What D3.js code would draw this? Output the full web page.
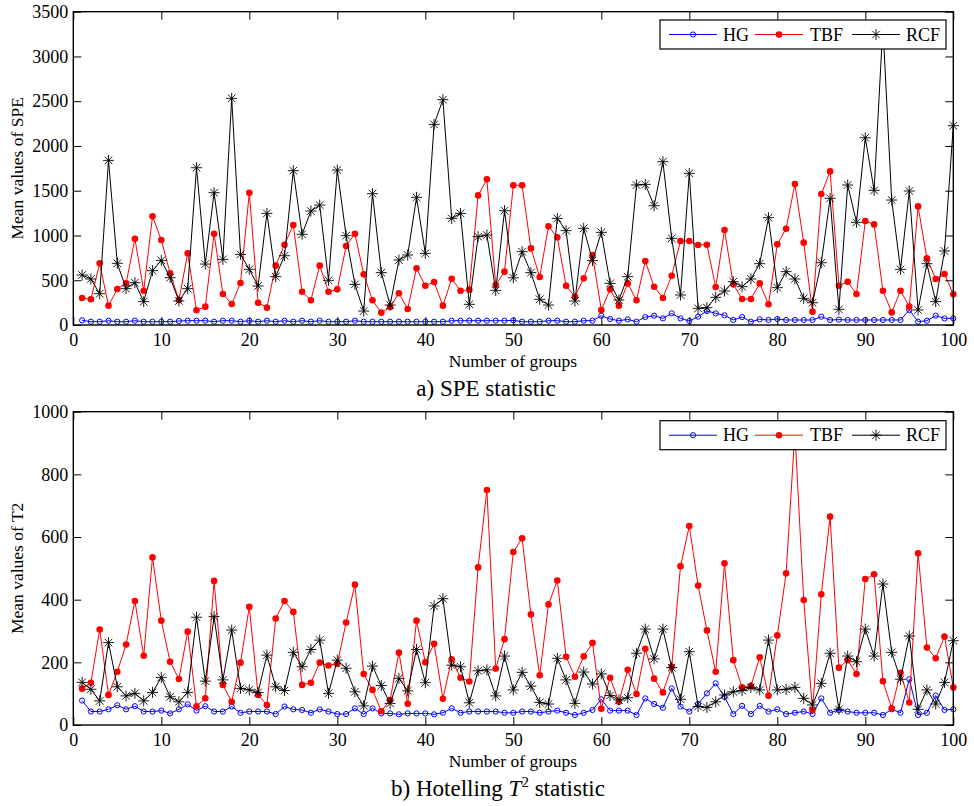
<!DOCTYPE html>
<html>
<head>
<meta charset="utf-8">
<script src="https://cdn.jsdelivr.net/npm/d3@7"></script>
<style>
  html, body { margin: 0; padding: 0; background: #fff; }
  svg { display: block; font-family: "Liberation Serif", "Times New Roman", serif; }
</style>
</head>
<body>
<svg id="chart" width="974" height="806"></svg>
<script>
// Group numbers 1..100
const groups = d3.range(1, 101);

// Panel a) mean SPE values per group
const speHG = [52,37,37,48,37,37,48,37,37,37,37,45,48,48,48,37,48,48,37,48,37,48,37,48,37,
  48,37,48,37,37,37,48,37,37,37,37,37,37,37,37,37,37,48,48,48,48,48,48,48,52,
  37,37,37,48,48,37,37,48,48,104,67,48,63,37,89,104,74,130,74,45,93,156,130,108,56,
  89,37,63,56,67,56,56,56,56,93,56,60,56,56,56,56,56,56,56,168,37,48,104,74,74];
const speTBF = [302,287,689,216,402,465,964,383,1214,949,577,279,800,164,205,1020,346,235,469,1478,249,194,663,897,1117,
  372,276,663,372,398,882,1020,566,276,138,201,354,179,633,439,480,216,517,383,395,1448,1627,447,596,1560,
  1560,856,536,1102,979,439,316,521,782,168,398,216,465,276,715,428,302,551,938,938,894,897,424,1061,454,
  290,290,465,231,901,1076,1575,920,149,1463,1716,439,484,346,1162,1124,383,141,383,205,1325,745,514,570,343];
const speRCF = [558,514,350,1839,689,406,473,261,607,722,529,268,406,1757,681,1478,733,2532,789,622,436,1247,540,774,1724,
  1013,1273,1340,499,1731,998,454,156,1467,585,223,726,782,1426,800,2241,2517,1191,1247,231,987,1005,387,1277,527,
  819,585,287,223,1191,1054,268,1080,719,1035,465,279,540,1564,1571,1333,1824,968,335,1694,186,194,309,380,484,
  428,514,685,1199,417,596,514,298,249,696,1415,175,1564,1147,2092,1504,3340,1396,622,1497,168,685,261,827,2226];

// Panel b) mean Hotelling T2 values per group
const t2HG = [78,43,43,50,63,50,60,43,43,46,37,50,66,46,60,43,43,59,39,43,43,43,35,59,50,
  48,39,50,43,35,35,53,35,53,37,37,34,37,37,37,34,39,53,39,43,43,43,43,39,39,
  43,43,39,43,46,39,32,39,48,82,46,46,46,32,85,67,55,117,59,43,67,101,133,90,35,
  61,35,61,43,50,35,39,43,35,85,39,48,43,39,39,39,32,50,39,146,32,39,94,48,50];
const t2TBF = [116,135,305,96,170,257,396,221,535,333,202,147,298,60,85,460,128,74,199,377,96,64,340,396,361,
  128,135,199,190,195,327,448,163,112,44,80,231,68,333,200,259,84,210,151,139,503,750,180,274,552,
  596,353,159,385,461,218,154,219,262,52,151,74,176,99,243,148,104,186,507,635,445,302,170,516,207,
  120,124,216,93,286,484,935,399,48,417,665,183,207,163,466,481,140,53,167,72,548,247,213,282,120];
const t2RCF = [136,114,77,263,122,93,101,77,104,152,90,74,104,344,140,346,144,303,117,112,104,223,122,110,232,
  186,241,271,101,207,181,106,61,188,126,69,149,109,241,135,380,403,191,186,71,173,176,93,220,112,
  168,124,72,67,213,144,69,169,131,163,94,80,87,229,306,211,306,183,82,234,59,56,74,96,106,
  110,120,112,271,112,114,120,85,64,133,229,50,220,202,306,220,450,232,146,284,50,112,67,136,269];

// Axis ticks
const xTicks = [0,10,20,30,40,50,60,70,80,90,100];
const speTicks = [0,500,1000,1500,2000,2500,3000,3500];
const t2Ticks = [0,200,400,600,800,1000];

const seriesNames = ["HG", "TBF", "RCF"];
const seriesColors = {HG: "#0000ff", TBF: "#ff0000", RCF: "#000000"};

const svg = d3.select("#chart");
// Asterisk marker: a plus and a cross overlaid
const starPath = "M-5.5,0H5.5M0,-5.5V5.5M-3.8,-3.8L3.8,3.8M-3.8,3.8L3.8,-3.8";
const serif = "Liberation Serif, Times New Roman, serif";

function drawMarker(sel, name) {
  if (name === "HG") {
    sel.append("circle").attr("r", 2.6).attr("fill", "none")
      .attr("stroke", seriesColors.HG).attr("stroke-width", 1);
  } else if (name === "TBF") {
    sel.append("circle").attr("r", 3.3).attr("fill", seriesColors.TBF);
  } else {
    sel.append("path").attr("d", starPath).attr("stroke", "#000")
      .attr("stroke-width", 0.9).attr("fill", "none");
  }
}

function panel(cfg) {
  const x = d3.scaleLinear().domain([0, 100]).range([73.3, 953.3]);
  const y = d3.scaleLinear().domain([0, cfg.yMax]).range([cfg.bottom, cfg.top]);
  const g = svg.append("g");

  // Series lines and markers
  const data = {HG: cfg.hg, TBF: cfg.tbf, RCF: cfg.rcf};
  const line = d3.line().x((d, i) => x(groups[i])).y(d => y(d));
  seriesNames.forEach(name => {
    const vals = data[name];
    g.append("path").datum(vals).attr("d", line)
      .attr("fill", "none").attr("stroke", seriesColors[name]).attr("stroke-width", 1);
    const m = g.append("g").selectAll("g").data(vals).join("g")
      .attr("transform", (d, i) => `translate(${x(groups[i])},${y(d)})`);
    m.each(function() { drawMarker(d3.select(this), name); });
  });

  // Axes with inward ticks on all four sides
  const axisFont = sel => sel.attr("font-family", serif).selectAll("text")
    .attr("font-family", serif).attr("font-size", 18).attr("fill", "#000");
  const fmt = d3.format("d");

  const bx = g.append("g").attr("transform", `translate(0,${cfg.bottom})`)
    .call(d3.axisBottom(x).tickValues(xTicks).tickFormat(fmt)
      .tickSizeInner(-8).tickSizeOuter(0).tickPadding(8));
  axisFont(bx);
  const tx = g.append("g").attr("transform", `translate(0,${cfg.top})`)
    .call(d3.axisTop(x).tickValues(xTicks).tickSizeInner(-8).tickSizeOuter(0).tickFormat(""));
  const ly = g.append("g").attr("transform", `translate(73.3,0)`)
    .call(d3.axisLeft(y).tickValues(cfg.yTicks).tickFormat(fmt)
      .tickSizeInner(-8).tickSizeOuter(0).tickPadding(5));
  axisFont(ly);
  const ry = g.append("g").attr("transform", `translate(953.3,0)`)
    .call(d3.axisRight(y).tickValues(cfg.yTicks).tickSizeInner(-8).tickSizeOuter(0).tickFormat(""));
  [bx, tx, ly, ry].forEach(a => {
    a.select(".domain").remove();
    a.selectAll("line").attr("stroke", "#000").attr("stroke-width", 1);
  });

  // Frame
  g.append("rect").attr("x", 73.3).attr("y", cfg.top)
    .attr("width", 880).attr("height", cfg.bottom - cfg.top)
    .attr("fill", "none").attr("stroke", "#000").attr("stroke-width", 1.4);

  // Legend
  const lg = g.append("g").attr("transform", `translate(660,${cfg.legendTop})`);
  lg.append("rect").attr("width", 286).attr("height", 29)
    .attr("fill", "#fff").attr("stroke", "#000").attr("stroke-width", 1.2);
  const items = [
    {name: "HG", x0: 9, x1: 57, tx: 63},
    {name: "TBF", x0: 95, x1: 143, tx: 150},
    {name: "RCF", x0: 192, x1: 240, tx: 246}
  ];
  items.forEach(it => {
    lg.append("line").attr("x1", it.x0).attr("x2", it.x1).attr("y1", 14.5).attr("y2", 14.5)
      .attr("stroke", seriesColors[it.name]).attr("stroke-width", 1);
    const mk = lg.append("g").attr("transform", `translate(${(it.x0 + it.x1) / 2},14.5)`);
    drawMarker(mk, it.name);
    lg.append("text").attr("x", it.tx).attr("y", 20.5).attr("font-size", 18).text(it.name);
  });

  // Axis titles
  g.append("text").attr("x", 513).attr("y", cfg.bottom + 42).attr("text-anchor", "middle")
    .attr("font-size", 17.5).text("Number of groups");
  g.append("text")
    .attr("transform", `translate(23,${(cfg.top + cfg.bottom) / 2}) rotate(-90)`)
    .attr("text-anchor", "middle").attr("font-size", 17.5).text(cfg.yLabel);

  // Panel caption
  const cap = g.append("text").attr("x", 486).attr("y", cfg.bottom + 71)
    .attr("text-anchor", "middle").attr("font-size", 23);
  cfg.caption(cap);
}

panel({
  top: 11.7, bottom: 325, yMax: 3500, yTicks: speTicks, legendTop: 20,
  hg: speHG, tbf: speTBF, rcf: speRCF,
  yLabel: "Mean values of SPE",
  caption: t => t.text("a) SPE statistic")
});

panel({
  top: 411.7, bottom: 725, yMax: 1000, yTicks: t2Ticks, legendTop: 420.7,
  hg: t2HG, tbf: t2TBF, rcf: t2RCF,
  yLabel: "Mean values of T2",
  caption: t => {
    t.attr("x", 498);
    t.append("tspan").text("b) Hotelling ");
    t.append("tspan").attr("font-style", "italic").text("T");
    t.append("tspan").attr("font-size", 15).attr("dy", -9).text("2");
    t.append("tspan").attr("dy", 9).text(" statistic");
  }
});
</script>
</body>
</html>
